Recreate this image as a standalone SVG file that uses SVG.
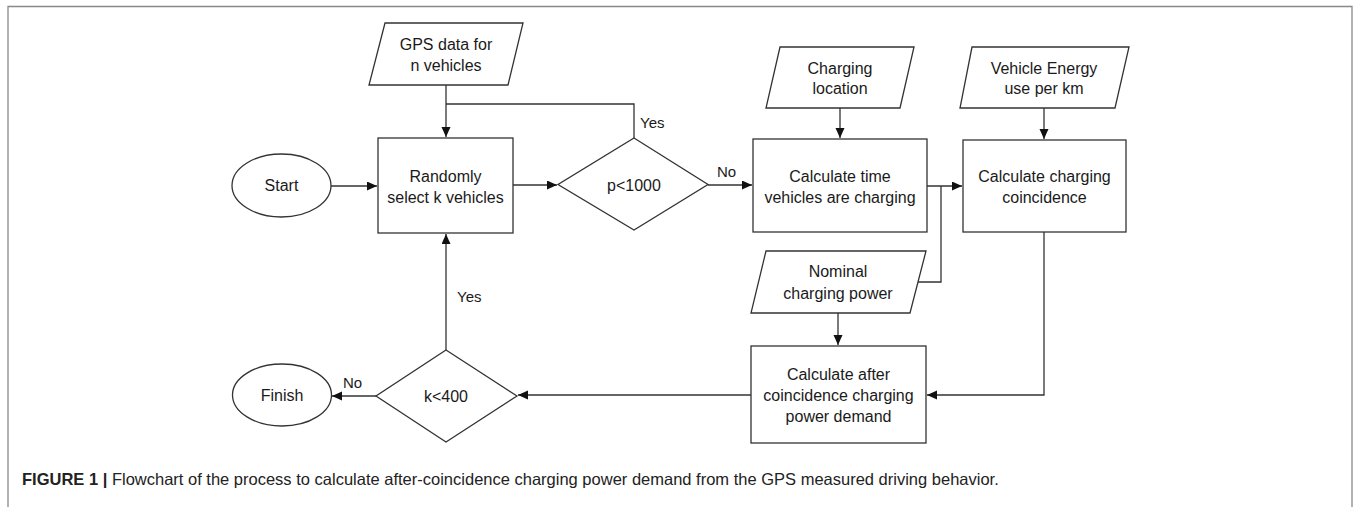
<svg xmlns="http://www.w3.org/2000/svg" width="1354" height="507" viewBox="0 0 1354 507">
<style>
.shape{fill:#fff;stroke:#333;stroke-width:1.3}
.conn{fill:none;stroke:#333;stroke-width:1.3}
.t{font-family:"Liberation Sans",Arial,sans-serif;font-size:16px;fill:#1a1a1a;text-anchor:middle}
.lbl{font-family:"Liberation Sans",Arial,sans-serif;font-size:15px;fill:#1a1a1a}
.cap{font-family:"Liberation Sans",Arial,sans-serif;font-size:16.5px;fill:#222}
</style>
<defs>
<marker id="arr" markerUnits="userSpaceOnUse" markerWidth="11" markerHeight="10" refX="10" refY="4.5" orient="auto">
<path d="M0,0 L10,4.5 L0,9 z" fill="#111"/>
</marker>
</defs>
<rect width="1354" height="507" fill="#fff"/>
<path d="M8,507 V6.5 H1352 V507" fill="none" stroke="#888" stroke-width="1.3"/>

<g id="connectors">
<path class="conn" d="M331,186 H377" marker-end="url(#arr)"/>
<path class="conn" d="M446,85 V137" marker-end="url(#arr)"/>
<path class="conn" d="M634,138 V104 H446"/>
<path class="conn" d="M513,185 H557" marker-end="url(#arr)"/>
<path class="conn" d="M708,185 H752" marker-end="url(#arr)"/>
<path class="conn" d="M840,108 V138" marker-end="url(#arr)"/>
<path class="conn" d="M927,186 H962" marker-end="url(#arr)"/>
<path class="conn" d="M941,186 V282 H918"/>
<path class="conn" d="M1044,108 V139" marker-end="url(#arr)"/>
<path class="conn" d="M1044,232 V395 H927" marker-end="url(#arr)"/>
<path class="conn" d="M838,313 V345" marker-end="url(#arr)"/>
<path class="conn" d="M751,395 H518" marker-end="url(#arr)"/>
<path class="conn" d="M446,350 V234" marker-end="url(#arr)"/>
<path class="conn" d="M376,396 H332" marker-end="url(#arr)"/>
<text class="lbl" x="640" y="128">Yes</text>
<text class="lbl" x="717" y="177">No</text>
<text class="lbl" x="457" y="302">Yes</text>
<text class="lbl" x="343" y="388">No</text>
</g>

<g id="start">
<ellipse class="shape" cx="281.5" cy="185.5" rx="49.5" ry="31.5"/>
<text class="t" x="281.5" y="191">Start</text>
</g>

<g id="gps-data">
<polygon class="shape" points="385,23 523,23 508,85 369,85"/>
<text class="t" x="446" y="49.5">GPS data for</text>
<text class="t" x="446" y="70.5">n vehicles</text>
</g>

<g id="random-select">
<rect class="shape" x="378" y="138" width="135" height="95"/>
<text class="t" x="445.5" y="181.5">Randomly</text>
<text class="t" x="445.5" y="202.5">select k vehicles</text>
</g>

<g id="p-check">
<polygon class="shape" points="634,138 708,184.5 634,230 558,184.5"/>
<text class="t" x="634" y="190.5">p&lt;1000</text>
</g>

<g id="charging-location">
<polygon class="shape" points="780,47 914,47 900,108 766,108"/>
<text class="t" x="840" y="73.5">Charging</text>
<text class="t" x="840" y="93.5">location</text>
</g>

<g id="calc-time">
<rect class="shape" x="753" y="139" width="174" height="93"/>
<text class="t" x="840" y="181.5">Calculate time</text>
<text class="t" x="840" y="202.5">vehicles are charging</text>
</g>

<g id="energy-use">
<polygon class="shape" points="972,47 1129,47 1115,108 960,108"/>
<text class="t" x="1044" y="73.5">Vehicle Energy</text>
<text class="t" x="1044" y="93.5">use per km</text>
</g>

<g id="calc-coincidence">
<rect class="shape" x="963" y="140" width="163" height="92"/>
<text class="t" x="1044.5" y="181.5">Calculate charging</text>
<text class="t" x="1044.5" y="202.5">coincidence</text>
</g>

<g id="nominal-power">
<polygon class="shape" points="766,251 926,251 910,313 751,313"/>
<text class="t" x="838" y="277">Nominal</text>
<text class="t" x="838" y="298.5">charging power</text>
</g>

<g id="calc-after">
<rect class="shape" x="751" y="346" width="175" height="97"/>
<text class="t" x="838.5" y="379.5">Calculate after</text>
<text class="t" x="838.5" y="400.5">coincidence charging</text>
<text class="t" x="838.5" y="421.5">power demand</text>
</g>

<g id="k-check">
<polygon class="shape" points="446,350 517,396 446,442 376,396"/>
<text class="t" x="446" y="401.5">k&lt;400</text>
</g>

<g id="finish">
<ellipse class="shape" cx="282" cy="395" rx="49.5" ry="31"/>
<text class="t" x="282" y="400.5">Finish</text>
</g>

<text class="cap" x="22" y="485"><tspan font-weight="bold">FIGURE 1 |</tspan> Flowchart of the process to calculate after-coincidence charging power demand from the GPS measured driving behavior.</text>
</svg>
